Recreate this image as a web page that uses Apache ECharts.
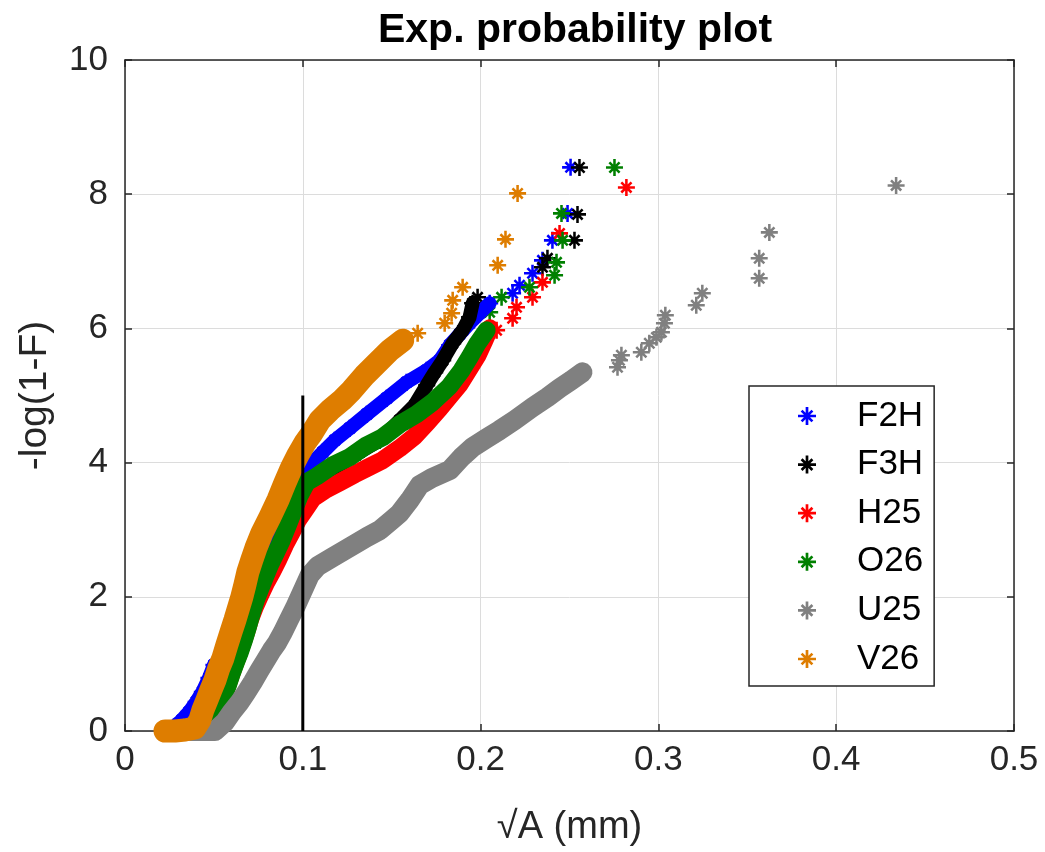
<!DOCTYPE html>
<html>
<head>
<meta charset="utf-8">
<title>Exp. probability plot</title>
<script src="https://cdn.jsdelivr.net/npm/echarts@6/dist/echarts.min.js"></script>
<style>
  html, body { margin: 0; padding: 0; background: #fff; }
  #chart { width: 1045px; height: 852px; }
</style>
</head>
<body>
<div id="chart"></div>
<script>
// names of the six samples, in plotting order
const sampleNames = ['F2H', 'F3H', 'H25', 'O26', 'U25', 'V26']

// x ticks (sqrt(A), mm) and y ticks (-log(1-F))
const xTicks = [0, 0.1, 0.2, 0.3, 0.4, 0.5]
const yTicks = [0, 2, 4, 6, 8, 10]

// [sqrt(A), -log(1-F)]; "dense" = the packed part of each cloud
const f2hDense = [[0.0213,0],[0.0275,0.060],[0.0320,0.164],[0.0360,0.283],[0.0400,0.432],[0.0435,0.581],[0.0472,0.789],[0.0500,0.983],[0.0590,1.176],[0.0618,1.385],[0.0652,1.623],[0.0680,1.847],[0.0713,2.070],[0.0742,2.278],[0.0770,2.502],[0.0798,2.725],[0.0831,2.964],[0.0871,3.202],[0.0916,3.440],[0.0955,3.663],[0.0989,3.857],[0.1039,3.961],[0.1112,4.155],[0.1180,4.334],[0.1264,4.512],[0.1360,4.721],[0.1472,4.959],[0.1584,5.197],[0.1697,5.376],[0.1770,5.525],[0.1826,5.748],[0.1882,5.912],[0.1938,6.076],[0.1994,6.225],[0.2051,6.374]]
const f2hTail = [[0.2180,6.523],[0.2219,6.642],[0.2292,6.821],[0.2348,7.014],[0.2404,7.312],[0.2489,7.714],[0.2506,8.400]]

const f3hDense = [[0.0421,0],[0.0466,0.134],[0.0494,0.283],[0.0522,0.462],[0.0551,0.640],[0.0579,0.819],[0.0607,0.998],[0.0635,1.191],[0.0663,1.385],[0.0691,1.593],[0.0719,1.787],[0.0747,1.981],[0.0775,2.174],[0.0803,2.368],[0.0837,2.576],[0.0876,2.785],[0.0916,2.993],[0.0955,3.217],[0.0994,3.440],[0.1039,3.634],[0.1112,3.812],[0.1208,3.961],[0.1320,4.155],[0.1433,4.334],[0.1545,4.631],[0.1629,4.855],[0.1697,5.153],[0.1742,5.346],[0.1787,5.525],[0.1843,5.778],[0.1899,5.972],[0.1938,6.165],[0.1955,6.374]]
const f3hTail = [[0.1983,6.463],[0.2348,6.910],[0.2376,7.044],[0.2528,7.312],[0.2545,7.699],[0.2556,8.399]]

const h25Dense = [[0.0461,0],[0.0494,0.134],[0.0522,0.313],[0.0545,0.462],[0.0567,0.611],[0.0590,0.789],[0.0612,0.953],[0.0635,1.117],[0.0657,1.281],[0.0680,1.459],[0.0702,1.653],[0.0730,1.847],[0.0758,2.010],[0.0792,2.204],[0.0826,2.368],[0.0860,2.547],[0.0899,2.770],[0.0938,2.964],[0.0972,3.142],[0.1011,3.291],[0.1056,3.470],[0.1124,3.589],[0.1208,3.708],[0.1292,3.827],[0.1360,3.917],[0.1449,4.036],[0.1545,4.214],[0.1629,4.393],[0.1702,4.602],[0.1770,4.810],[0.1826,4.989],[0.1882,5.168],[0.1938,5.406],[0.1983,5.599],[0.2022,5.823],[0.2051,6.001]]
const h25Tail = [[0.2090,5.972],[0.2180,6.150],[0.2202,6.314],[0.2292,6.463],[0.2348,6.686],[0.2444,7.416],[0.2820,8.101]]

const o26Dense = [[0.0449,0],[0.0489,0.089],[0.0511,0.238],[0.0534,0.387],[0.0556,0.536],[0.0579,0.685],[0.0601,0.864],[0.0624,1.028],[0.0646,1.176],[0.0669,1.355],[0.0691,1.549],[0.0713,1.757],[0.0736,1.951],[0.0758,2.100],[0.0787,2.293],[0.0815,2.472],[0.0848,2.651],[0.0882,2.844],[0.0916,3.068],[0.0949,3.291],[0.0983,3.515],[0.1022,3.708],[0.1079,3.797],[0.1169,3.961],[0.1264,4.080],[0.1360,4.259],[0.1449,4.378],[0.1545,4.572],[0.1640,4.721],[0.1730,4.900],[0.1826,5.138],[0.1893,5.376],[0.1938,5.570],[0.1983,5.778],[0.2034,5.972]]
const o26Tail = [[0.2051,6.240],[0.2118,6.463],[0.2275,6.612],[0.2416,6.791],[0.2427,6.984],[0.2461,7.312],[0.2455,7.714],[0.2753,8.399]]

const u25Dense = [[0.0365,0],[0.0421,0],[0.0506,0],[0.0562,0.134],[0.0601,0.283],[0.0646,0.432],[0.0680,0.566],[0.0719,0.730],[0.0758,0.908],[0.0792,1.057],[0.0826,1.206],[0.0854,1.310],[0.0888,1.474],[0.0921,1.653],[0.0955,1.832],[0.0983,1.996],[0.1006,2.130],[0.1039,2.323],[0.1084,2.457],[0.1169,2.591],[0.1236,2.695],[0.1303,2.800],[0.1360,2.889],[0.1433,2.993],[0.1500,3.142],[0.1545,3.246],[0.1601,3.440],[0.1657,3.663],[0.1725,3.768],[0.1826,3.887],[0.1893,4.080],[0.1955,4.229],[0.2034,4.363],[0.2107,4.483],[0.2191,4.631],[0.2292,4.825],[0.2376,4.974],[0.2444,5.108],[0.2511,5.227],[0.2573,5.346]]
const u25Tail = [[0.2770,5.421],[0.2781,5.525],[0.2792,5.599],[0.2904,5.644],[0.2949,5.778],[0.2989,5.867],[0.3017,5.942],[0.3034,6.076],[0.3039,6.195],[0.3213,6.344],[0.3247,6.523],[0.3567,6.746],[0.3567,7.044],[0.3624,7.431],[0.4337,8.131]]

const v26Dense = [[0.0225,0],[0.0281,0],[0.0337,0.015],[0.0393,0.045],[0.0421,0.164],[0.0438,0.313],[0.0461,0.462],[0.0483,0.611],[0.0506,0.759],[0.0528,0.938],[0.0551,1.087],[0.0573,1.281],[0.0596,1.474],[0.0618,1.653],[0.0640,1.847],[0.0657,1.996],[0.0674,2.174],[0.0691,2.368],[0.0713,2.547],[0.0736,2.725],[0.0770,2.949],[0.0815,3.187],[0.0860,3.440],[0.0899,3.693],[0.0938,3.932],[0.0972,4.110],[0.1011,4.289],[0.1051,4.438],[0.1096,4.631],[0.1152,4.780],[0.1219,4.929],[0.1275,5.078],[0.1348,5.302],[0.1416,5.480],[0.1489,5.674],[0.1562,5.823]]
const v26Tail = [[0.1646,5.927],[0.1798,6.076],[0.1837,6.225],[0.1843,6.418],[0.1899,6.612],[0.2096,6.940],[0.2140,7.327],[0.2208,8.012]]

// the black reference line at sqrt(A) = 0.1
const refLine = [[0.1, 0], [0.1, 5]]

const dense = [f2hDense, f3hDense, h25Dense, o26Dense, u25Dense, v26Dense]
const tails = [f2hTail, f3hTail, h25Tail, o26Tail, u25Tail, v26Tail]
const colors = ['#0000ff', '#000000', '#ff0000', '#008000', '#808080', '#de7d00']
const bandWidth = [14, 14, 18, 18, 20, 23]

// MATLAB style '*' marker
const starPath = 'path://M8.5 0L11.5 0L11.5 20L8.5 20ZM0 8.5L20 8.5L20 11.5L0 11.5ZM5.06 2.94L17.06 14.94L14.94 17.06L2.94 5.06ZM14.94 2.94L17.06 5.06L5.06 17.06L2.94 14.94Z'
const font = "'Liberation Sans', Arial, Helvetica, sans-serif"
const axisColor = '#262626'

const series = []
sampleNames.forEach((name, i) => {
  // packed part of the cloud
  series.push({
    name: '_' + name,
    type: 'line',
    data: dense[i],
    symbol: 'none',
    silent: true,
    clip: false,
    lineStyle: { color: colors[i], width: bandWidth[i], cap: 'round', join: 'round' },
    itemStyle: { color: colors[i] }
  })
  series.push({
    name,
    type: 'scatter',
    data: dense[i].concat(tails[i]),
    symbol: starPath,
    symbolSize: 17,
    clip: false,
    itemStyle: { color: colors[i], opacity: 1 }
  })
})
series.push({
  name: 'ref',
  type: 'line',
  data: refLine,
  symbol: 'none',
  silent: true,
  clip: false,
  z: 5,
  lineStyle: { color: '#000', width: 3 }
})

const chart = echarts.init(document.getElementById('chart'), null, { renderer: 'canvas' })

const option = {
  animation: false,
  backgroundColor: '#fff',
  textStyle: { fontFamily: font },
  title: {
    text: 'Exp. probability plot',
    left: 570,
    textAlign: 'center',
    top: 5,
    textStyle: { fontFamily: font, fontSize: 41, fontWeight: 'bold', color: '#000' }
  },
  grid: { left: 125, right: 31, top: 60, bottom: 121, containLabel: false },
  legend: {
    orient: 'vertical',
    left: 749,
    top: 386,
    padding: [12, 11, 9, 49],
    itemWidth: 90,
    itemHeight: 18,
    itemGap: 12.6,
    backgroundColor: '#fff',
    borderColor: axisColor,
    borderWidth: 1.5,
    borderRadius: 0,
    selectedMode: false,
    textStyle: { fontFamily: font, fontSize: 35, lineHeight: 36, color: '#000' },
    data: sampleNames.map(n => ({ name: n, icon: starPath }))
  },
  xAxis: [
    {
      type: 'value',
      min: xTicks[0],
      max: xTicks[xTicks.length - 1],
      interval: 0.1,
      name: '√A (mm)',
      nameLocation: 'middle',
      nameGap: 78,
      nameTextStyle: { fontFamily: font, fontSize: 38, color: axisColor },
      axisLine: { show: true, onZero: false, lineStyle: { color: axisColor, width: 1.5 } },
      axisTick: { show: true, inside: true, length: 7, lineStyle: { color: axisColor, width: 1.5 } },
      axisLabel: { fontFamily: font, fontSize: 35, color: axisColor, margin: 12,
        formatter: v => String(Math.round(v * 10) / 10) },
      splitLine: { show: true, lineStyle: { color: '#dcdcdc', width: 1 } }
    },
    {
      type: 'value',
      position: 'top',
      min: xTicks[0],
      max: xTicks[xTicks.length - 1],
      interval: 0.1,
      axisLine: { show: true, onZero: false, lineStyle: { color: axisColor, width: 1.5 } },
      axisTick: { show: true, inside: true, length: 7, lineStyle: { color: axisColor, width: 1.5 } },
      axisLabel: { show: false },
      splitLine: { show: false }
    }
  ],
  yAxis: [
    {
      type: 'value',
      min: yTicks[0],
      max: yTicks[yTicks.length - 1],
      interval: 2,
      name: '-log(1-F)',
      nameLocation: 'middle',
      nameGap: 70,
      nameTextStyle: { fontFamily: font, fontSize: 39, color: axisColor },
      axisLine: { show: true, onZero: false, lineStyle: { color: axisColor, width: 1.5 } },
      axisTick: { show: true, inside: true, length: 7, lineStyle: { color: axisColor, width: 1.5 } },
      axisLabel: { fontFamily: font, fontSize: 35, color: axisColor, margin: 17 },
      splitLine: { show: true, lineStyle: { color: '#dcdcdc', width: 1 } }
    },
    {
      type: 'value',
      position: 'right',
      min: yTicks[0],
      max: yTicks[yTicks.length - 1],
      interval: 2,
      axisLine: { show: true, onZero: false, lineStyle: { color: axisColor, width: 1.5 } },
      axisTick: { show: true, inside: true, length: 7, lineStyle: { color: axisColor, width: 1.5 } },
      axisLabel: { show: false },
      splitLine: { show: false }
    }
  ],
  series
}

chart.setOption(option)
</script>
</body>
</html>
